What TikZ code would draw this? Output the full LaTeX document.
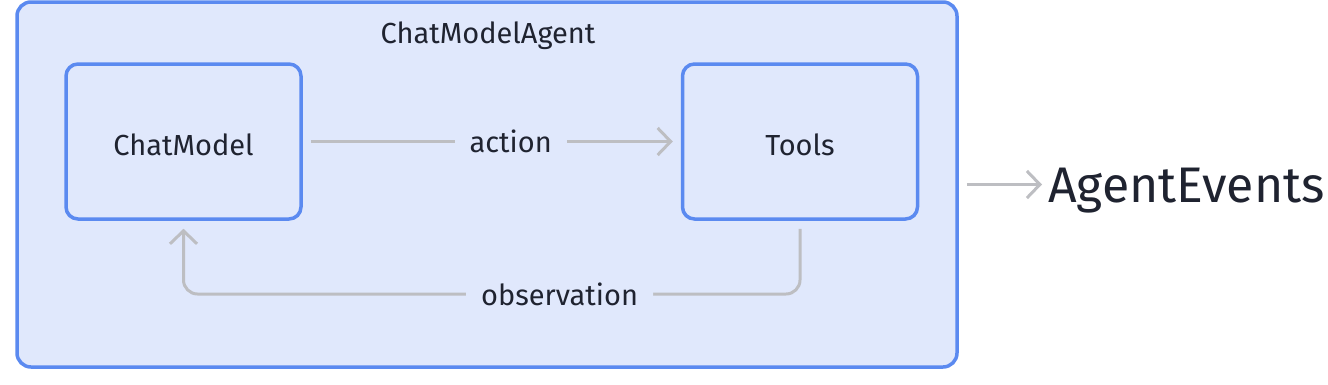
\documentclass[tikz,border=0pt]{standalone}
\usepackage{fontspec}
\setmainfont{Fira Sans}
\usetikzlibrary{arrows.meta}
\definecolor{boxblue}{HTML}{5B8AF0}
\definecolor{boxfill}{HTML}{E0E8FC}
\definecolor{linegray}{HTML}{BDBEC2}
\definecolor{txt}{HTML}{1F2330}
\begin{document}
\begin{tikzpicture}[x=1pt,y=-1pt,
  container/.style={draw=boxblue,fill=boxfill,line width=3.5pt,rounded corners=14pt,
    minimum width=940pt,minimum height=365pt,inner sep=0pt},
  block/.style={draw=boxblue,fill=boxfill,line width=3.5pt,rounded corners=12pt,
    minimum width=235pt,minimum height=155pt,inner sep=0pt,
    text height=27pt,text depth=0pt,
    font=\fontsize{29}{34}\selectfont,text=txt},
  conn/.style={draw=linegray,line width=3pt,
    -{Straight Barb[length=13pt,width=27pt]},shorten >=8pt,shorten <=8pt},
  lbl/.style={fill=boxfill,text=txt,inner xsep=15pt,inner ysep=4pt,
    font=\fontsize{29}{34}\selectfont},
  title/.style={text=txt,font=\fontsize{29}{34}\selectfont,inner sep=0pt},
  big/.style={text=txt,font=\fontsize{50}{60}\selectfont,inner sep=0pt,anchor=west}
]
\useasboundingbox (0,0) rectangle (1328,384);
\node[container] (agent) at (487,184.5) {};
\node[title] (ttl) at (488,36) {ChatModelAgent};
\node[block] (cm) at (183.5,141.5) {ChatModel};
\node[block] (tools) at (800,141.5) {Tools};
\draw[conn] (cm.east) -- node[lbl,pos=0.55] {action} (tools.west);
\coordinate (obsR) at (800,294);
\coordinate (obsL) at (183.5,294);
\draw[conn,rounded corners=14pt] (tools.south) -- (obsR) -- node[lbl,pos=0.39] {observation} (obsL) -- (cm.south);
\node[big] (ev) at (1048,191) {AgentEvents};
\draw[conn,shorten <=8pt,shorten >=6pt] (agent.east) -- (agent.east -| ev.west);
\end{tikzpicture}
\end{document}
